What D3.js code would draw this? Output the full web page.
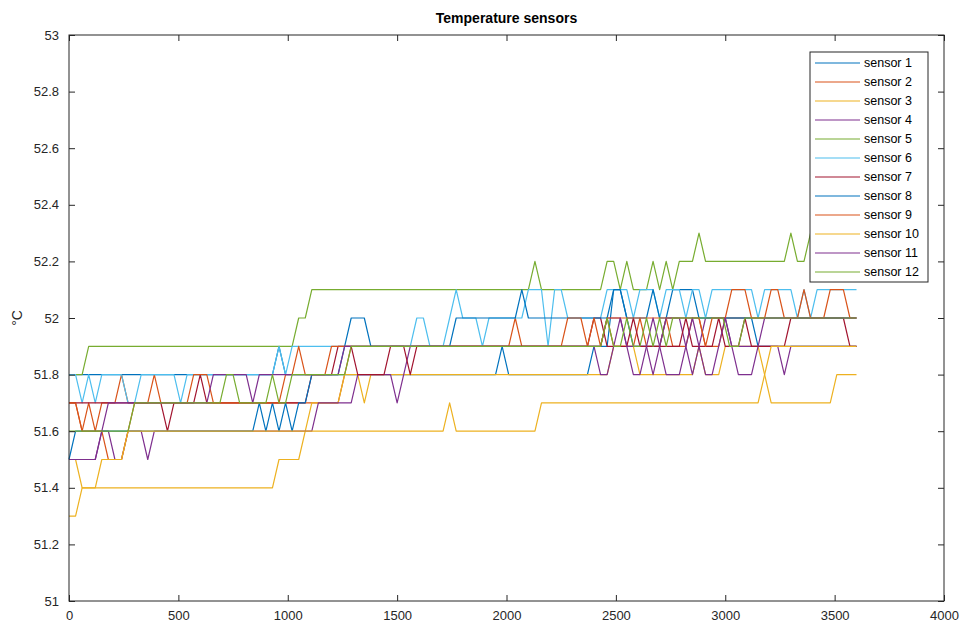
<!DOCTYPE html>
<html>
<head>
  <script src="https://d3js.org/d3.v7.min.js"></script>
  <style type="text/css">
    body { margin: 0; background: #fff; }
    svg { font-family: "Liberation Sans", Arial, Helvetica, sans-serif; }
    .tick text { fill: #262626; font-size: 13px; }
  </style>
</head>
<body>
<svg id="chart" width="968" height="625"></svg>

<script type="text/javascript">
// readings [time, °C] at the points where each trace changes slope

const sensor1 = [[0,51.8],[930,51.8],[960,51.9],[990,51.8],[1950,51.8],[1980,51.9],[2010,51.8],[2370,51.8],[2400,51.9],
  [2460,51.9],[2475,52.0],[2490,52.1],[2520,52.1],[2550,52.0],[2580,51.9],[2700,51.9],[2730,52.0],[2760,52.1],[2850,52.1],
  [2880,52.0],[3120,52.0],[3150,51.9],[3600,51.9]];

const sensor2 = [[0,51.7],[30,51.7],[60,51.6],[90,51.7],[120,51.6],[150,51.7],[210,51.7],[240,51.8],[270,51.7],[360,51.7],
  [390,51.8],[420,51.7],[1230,51.7],[1260,51.8],[1290,51.9],[2010,51.9],[2040,52.0],[2070,51.9],[2430,51.9],[2460,52.0],
  [2490,51.9],[2580,51.9],[2610,52.0],[2640,51.9],[2700,51.9],[2730,52.0],[2760,51.9],[2820,51.9],[2850,52.0],[2880,52.0],
  [2910,51.9],[2970,51.9],[3000,52.0],[3600,52.0]];

const sensor3 = [[0,51.3],[30,51.3],[60,51.4],[930,51.4],[960,51.5],[1050,51.5],[1080,51.6],[1110,51.7],[1230,51.7],
  [1260,51.8],[1320,51.8],[1350,51.7],[1380,51.8],[2460,51.8],[2490,51.9],[2580,51.9],[2610,51.8],[2850,51.8],[2880,51.9],
  [2910,51.8],[2970,51.8],[3000,51.9],[3150,51.9],[3180,51.8],[3210,51.7],[3480,51.7],[3510,51.8],[3600,51.8]];

const sensor4 = [[0,51.5],[120,51.5],[150,51.6],[180,51.6],[210,51.5],[240,51.5],[270,51.6],[330,51.6],[360,51.5],
  [390,51.6],[1110,51.6],[1140,51.7],[1290,51.7],[1320,51.8],[1470,51.8],[1500,51.7],[1530,51.8],[1560,51.9],[2430,51.9],
  [2460,52.0],[2520,52.0],[2550,51.9],[2640,51.9],[2670,51.8],[2700,51.9],[2730,52.0],[2790,52.0],[2820,51.9],[2850,51.8],
  [2880,51.9],[2910,52.0],[3000,52.0],[3030,51.9],[3240,51.9],[3270,51.8],[3300,51.9],[3600,51.9]];

const sensor5 = [[0,51.8],[60,51.8],[90,51.9],[1020,51.9],[1050,52.0],[1080,52.0],[1110,52.1],[2100,52.1],[2130,52.2],
  [2160,52.1],[2430,52.1],[2460,52.2],[2490,52.2],[2520,52.1],[2550,52.2],[2580,52.1],[2640,52.1],[2670,52.2],[2700,52.1],
  [2730,52.2],[2760,52.1],[2790,52.2],[2850,52.2],[2880,52.3],[2910,52.2],[3270,52.2],[3300,52.3],[3330,52.2],[3360,52.2],
  [3390,52.3],[3600,52.3]];

const sensor6 = [[0,51.8],[30,51.8],[60,51.7],[90,51.8],[120,51.7],[150,51.8],[240,51.8],[270,51.7],[300,51.7],[330,51.8],
  [480,51.8],[510,51.7],[540,51.8],[930,51.8],[960,51.9],[990,51.8],[1020,51.9],[1560,51.9],[1590,52.0],[1620,52.0],
  [1650,51.9],[1710,51.9],[1740,52.0],[1770,52.1],[1800,52.0],[1860,52.0],[1890,51.9],[1920,52.0],[2070,52.0],[2100,52.1],
  [2160,52.1],[2190,51.9],[2220,52.1],[2250,52.1],[2280,52.0],[2430,52.0],[2460,52.1],[2550,52.1],[2580,52.0],[2610,52.1],
  [2670,52.1],[2700,52.0],[2730,52.1],[2790,52.1],[2820,52.0],[2850,52.1],[2880,52.1],[2910,52.0],[2940,52.1],[3120,52.1],
  [3150,52.0],[3180,52.1],[3300,52.1],[3330,52.0],[3360,52.1],[3390,52.0],[3420,52.1],[3600,52.1]];

const sensor7 = [[0,51.7],[420,51.7],[450,51.6],[480,51.7],[570,51.7],[600,51.8],[630,51.7],[1080,51.7],[1110,51.8],
  [1200,51.8],[1230,51.9],[1290,51.9],[1320,51.8],[1440,51.8],[1470,51.9],[1530,51.9],[1560,51.8],[1590,51.9],[2370,51.9],
  [2400,52.0],[2430,52.0],[2460,51.9],[2550,51.9],[2580,52.0],[2610,51.9],[2790,51.9],[2820,52.0],[2850,51.9],[2940,51.9],
  [2970,52.0],[3000,51.9],[3060,51.9],[3090,52.0],[3120,51.9],[3270,51.9],[3300,52.0],[3540,52.0],[3570,51.9],[3600,51.9]];

const sensor8 = [[0,51.5],[30,51.6],[840,51.6],[870,51.7],[900,51.6],[930,51.7],[960,51.6],[990,51.7],[1020,51.6],
  [1050,51.7],[1080,51.7],[1110,51.8],[1230,51.8],[1260,51.9],[1290,52.0],[1350,52.0],[1380,51.9],[1740,51.9],[1770,52.0],
  [2040,52.0],[2070,52.1],[2100,52.0],[2460,52.0],[2490,52.1],[2520,52.1],[2550,52.0],[2640,52.0],[2670,52.1],[2700,52.0],
  [3600,52.0]];

const sensor9 = [[0,51.7],[30,51.7],[60,51.6],[150,51.6],[180,51.5],[240,51.5],[270,51.6],[300,51.7],[540,51.7],[570,51.8],
  [630,51.8],[660,51.7],[960,51.7],[990,51.8],[1020,51.8],[1050,51.9],[1080,51.8],[1170,51.8],[1200,51.9],[2250,51.9],
  [2280,52.0],[2340,52.0],[2370,51.9],[2400,52.0],[2430,51.9],[2460,52.0],[2880,52.0],[2910,51.9],[2940,52.0],[3000,52.0],
  [3030,52.1],[3090,52.1],[3120,52.0],[3180,52.0],[3210,52.1],[3240,52.1],[3270,52.0],[3330,52.0],[3360,52.1],[3390,52.0],
  [3450,52.0],[3480,52.1],[3540,52.1],[3570,52.0],[3600,52.0]];

const sensor10 = [[0,51.5],[30,51.5],[60,51.4],[120,51.4],[150,51.5],[240,51.5],[270,51.6],[1710,51.6],[1740,51.7],
  [1770,51.6],[2130,51.6],[2160,51.7],[3150,51.7],[3180,51.8],[3210,51.9],[3600,51.9]];

const sensor11 = [[0,51.5],[120,51.5],[150,51.6],[180,51.7],[630,51.7],[660,51.8],[810,51.8],[840,51.7],[870,51.8],
  [1230,51.8],[1260,51.9],[2400,51.9],[2430,51.8],[2460,51.8],[2490,51.9],[2520,52.0],[2550,51.9],[2580,51.8],[2610,51.8],
  [2640,51.9],[2670,52.0],[2700,51.9],[2730,51.8],[2790,51.8],[2820,51.9],[2850,52.0],[2880,51.9],[2910,51.8],[2940,51.8],
  [2970,51.9],[3000,52.0],[3030,51.9],[3060,51.8],[3120,51.8],[3150,51.9],[3180,52.0],[3600,52.0]];

const sensor12 = [[0,51.6],[270,51.6],[300,51.7],[690,51.7],[720,51.8],[750,51.8],[780,51.7],[900,51.7],[930,51.8],
  [960,51.7],[990,51.7],[1020,51.8],[1260,51.8],[1290,51.9],[2430,51.9],[2460,52.0],[2490,51.9],[2520,51.9],[2550,52.0],
  [2580,51.9],[2610,51.9],[2640,52.0],[2670,51.9],[2700,52.0],[2730,51.9],[2760,52.0],[2990,52.0],[3020,51.9],[3060,51.9],
  [3090,52.0],[3600,52.0]];

const sensorNames = ["sensor 1","sensor 2","sensor 3","sensor 4","sensor 5","sensor 6",
  "sensor 7","sensor 8","sensor 9","sensor 10","sensor 11","sensor 12"];
const sensorData = [sensor1, sensor2, sensor3, sensor4, sensor5, sensor6,
  sensor7, sensor8, sensor9, sensor10, sensor11, sensor12];
const colors = ["#0072BD","#D95319","#EDB120","#7E2F8E","#77AC30","#4DBEEE","#A2142F"];

const xTicks = [0,500,1000,1500,2000,2500,3000,3500,4000];
const yTicks = [51,51.2,51.4,51.6,51.8,52,52.2,52.4,52.6,52.8,53];

var svg = d3.select('#chart');
// note: "top" is taken by window.top, so plot edges get their own names
var plotL = 69, plotR = 944, plotT = 35, plotB = 601;

var x = d3.scaleLinear().domain([0, 4000]).range([plotL, plotR]);
var y = d3.scaleLinear().domain([51, 53]).range([plotB, plotT]);

var axisColor = '#262626';

var lineGen = d3.line().x(d => x(d[0])).y(d => y(d[1]));

svg.append('g').selectAll('path')
  .data(sensorData)
  .enter().append('path')
  .attr('d', lineGen)
  .attr('fill', 'none')
  .attr('stroke', (d, i) => colors[i % colors.length])
  .attr('stroke-width', 1.2)
  .attr('stroke-linejoin', 'round');

// axes, matlab style (ticks inside, mirrored)
function styleAxis(g) {
  g.select('.domain').remove();
  g.selectAll('.tick line').attr('stroke', axisColor);
  g.selectAll('.tick text').attr('fill', axisColor).style('font-size', '13px');
}

svg.append('g')
  .attr('transform', `translate(0,${plotB})`)
  .call(d3.axisBottom(x).tickValues(xTicks).tickFormat(d3.format('d')).tickSizeInner(-6).tickPadding(10))
  .call(styleAxis);
svg.append('g')
  .attr('transform', `translate(0,${plotT})`)
  .call(d3.axisTop(x).tickValues(xTicks).tickSizeInner(-6).tickFormat(''))
  .call(styleAxis);
svg.append('g')
  .attr('transform', `translate(${plotL},0)`)
  .call(d3.axisLeft(y).tickValues(yTicks).tickFormat(d => d3.format('.1f')(d).replace(/\.0$/, '')).tickSizeInner(-6).tickPadding(10))
  .call(styleAxis);
svg.append('g')
  .attr('transform', `translate(${plotR},0)`)
  .call(d3.axisRight(y).tickValues(yTicks).tickSizeInner(-6).tickFormat(''))
  .call(styleAxis);

svg.append('rect')
  .attr('x', plotL).attr('y', plotT)
  .attr('width', plotR - plotL).attr('height', plotB - plotT)
  .attr('fill', 'none')
  .attr('stroke', axisColor)
  .attr('stroke-width', 1);

// title + label
svg.append('text')
  .attr('x', (plotL + plotR) / 2).attr('y', 23)
  .attr('text-anchor', 'middle')
  .attr('font-size', 14).attr('font-weight', 'bold')
  .attr('fill', '#000')
  .text('Temperature sensors');

svg.append('text')
  .attr('transform', 'translate(22,318) rotate(-90)')
  .attr('text-anchor', 'middle')
  .attr('font-size', 14)
  .attr('fill', axisColor)
  .text('°C');

// legend
var lg = svg.append('g').attr('transform', 'translate(810,52)');
lg.append('rect')
  .attr('width', 118).attr('height', 230)
  .attr('fill', '#fff')
  .attr('stroke', axisColor).attr('stroke-width', 1);

var rows = lg.selectAll('g.row')
  .data(sensorNames)
  .enter().append('g')
  .attr('class', 'row')
  .attr('transform', (d, i) => `translate(0,${11 + i * 19})`);
rows.append('line')
  .attr('x1', 5).attr('x2', 50)
  .attr('stroke', (d, i) => colors[i % colors.length])
  .attr('stroke-width', 1.2);
rows.append('text')
  .attr('x', 54).attr('dy', '0.35em')
  .attr('font-size', 12.5)
  .attr('fill', '#000')
  .text(d => d);
</script>
</html>
